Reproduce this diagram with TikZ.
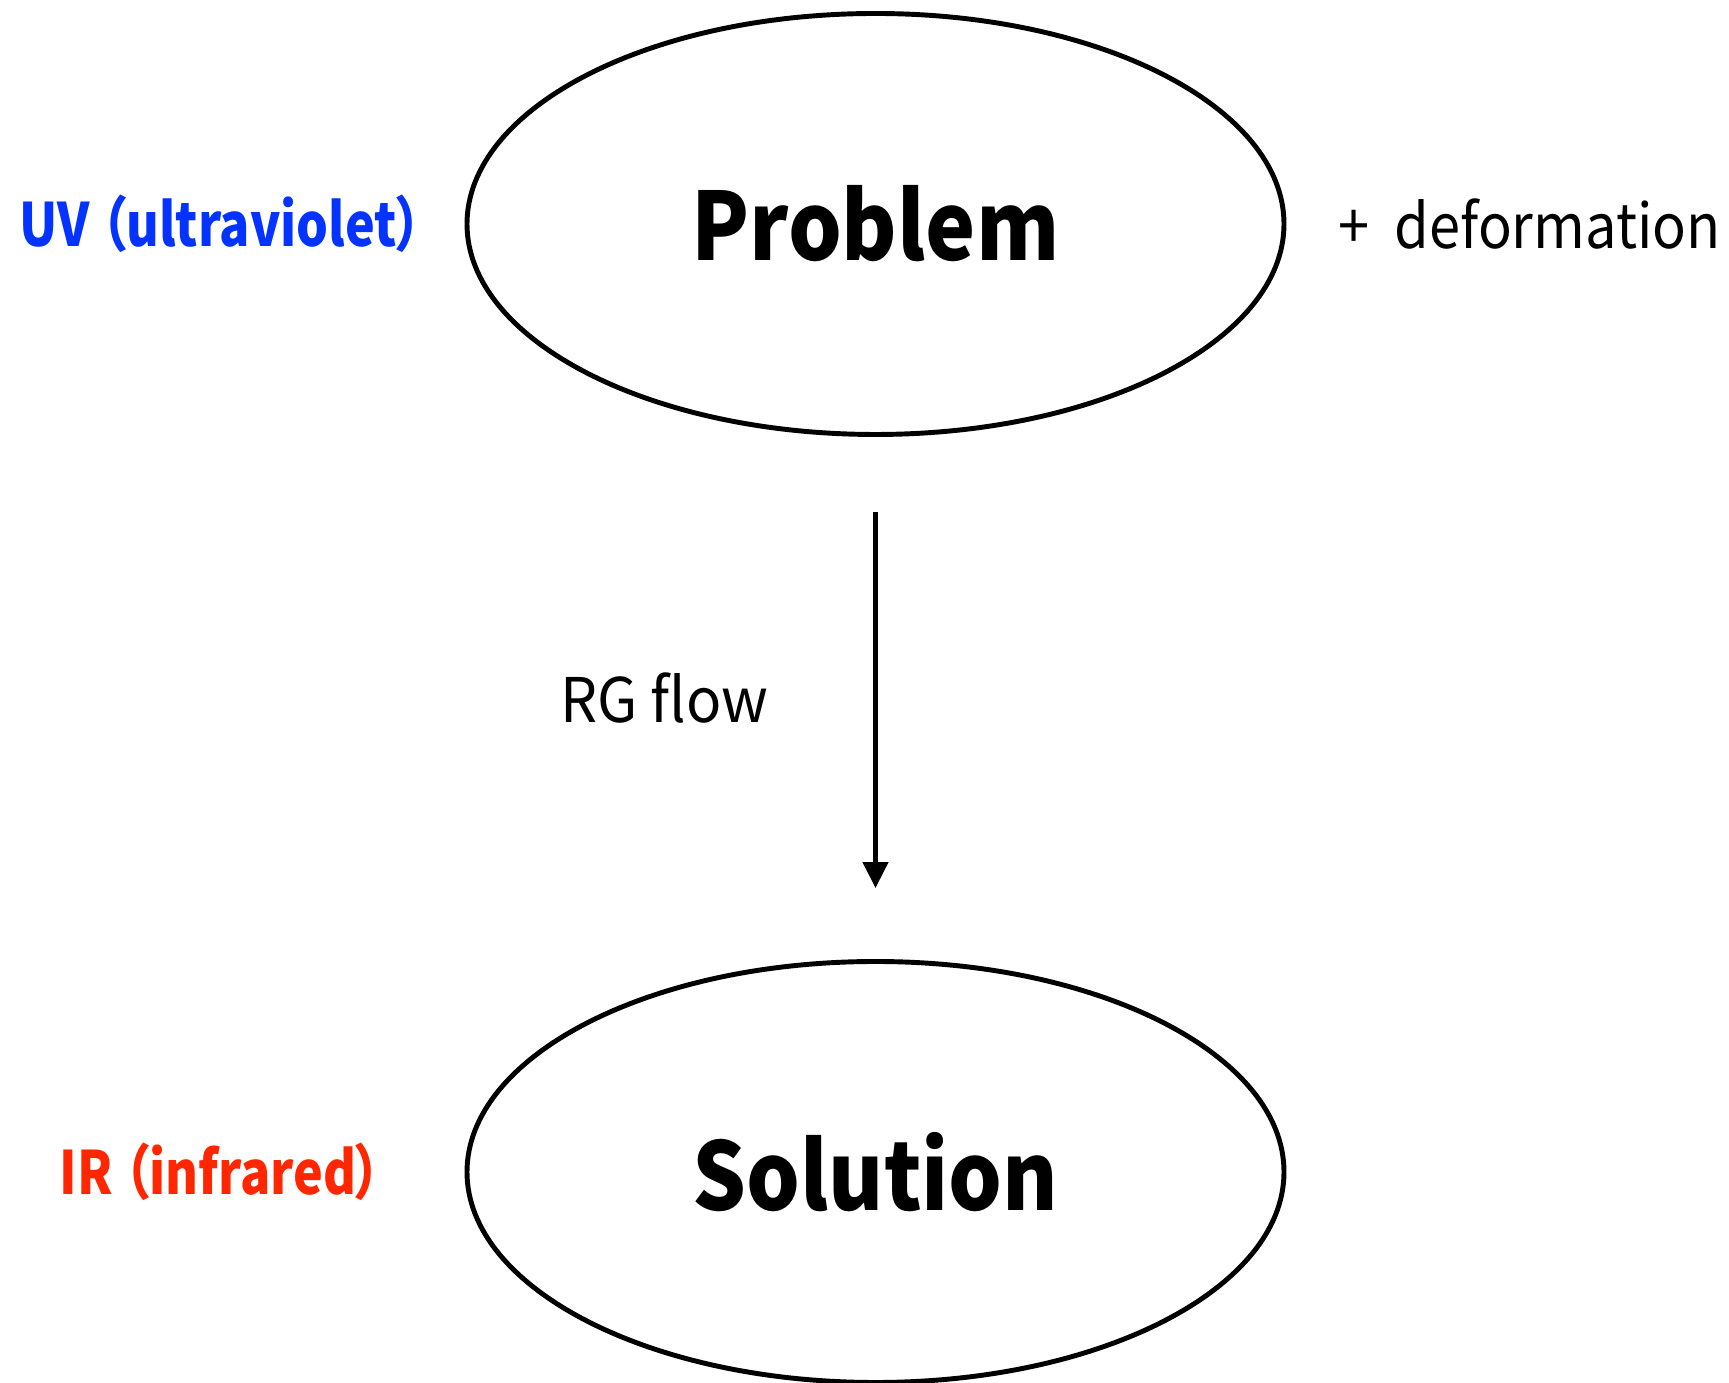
\documentclass[tikz,border=0pt]{standalone}
\usepackage{fontspec}
\setmainfont{Noto Sans CJK JP}
\newfontfamily\stagefont[FakeStretch=0.9]{Noto Sans CJK JP}
\newfontfamily\regimefont[FakeStretch=0.84, RawFeature=+palt]{Noto Sans CJK JP}
\newfontfamily\sidefont[FakeStretch=0.95]{Noto Sans CJK JP}
\newfontfamily\deformfont[FakeStretch=0.91]{Noto Sans CJK JP}
\usetikzlibrary{arrows.meta,positioning,shapes.geometric}
\definecolor{uvBlue}{HTML}{0433FF}
\definecolor{irRed}{HTML}{FF2600}

\begin{document}
\begin{tikzpicture}[
  >=Latex,
  stage/.style={draw=black, line width=2.8pt, ellipse, inner sep=0pt, minimum width=16.34cm, minimum height=8.42cm, font=\stagefont\fontsize{53.5}{58}\selectfont\bfseries},
  regime/.style={inner sep=0pt, font=\regimefont\fontsize{34}{40}\selectfont\bfseries},
  side/.style={inner sep=0pt, font=\sidefont\fontsize{35}{40}\selectfont},
  flow/.style={-{Triangle[length=0.52cm, width=0.5cm]}, line width=2.6pt, shorten <=1.5cm, shorten >=1.42cm}
]
\useasboundingbox (0,0) rectangle (34.58,27.66);

\node[stage] (prob) at (17.51,23.18) {Problem};
\node[stage] (sol) at (17.51,4.22) {Solution};

\node[regime, text=uvBlue, left=0.84cm of prob] (uv) {UV （ultraviolet）};
\node[regime, text=irRed, left=1.66cm of sol] (ir) {IR （infrared）};
\node[side, font=\deformfont\fontsize{35}{40}\selectfont, right=1.04cm of prob] (deform) {+\hspace{0.2em} deformation};

\draw[flow] (prob) -- node[side, midway, left=2.1cm] (rg) {RG flow} (sol);
\end{tikzpicture}
\end{document}
